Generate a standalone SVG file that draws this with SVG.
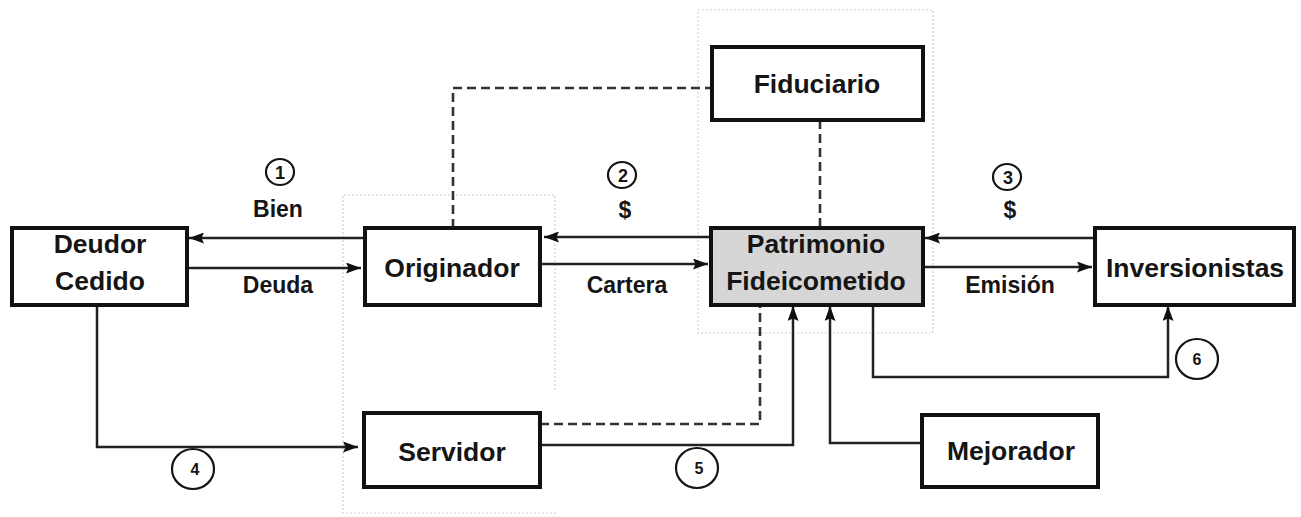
<svg xmlns="http://www.w3.org/2000/svg" width="1301" height="517" viewBox="0 0 1301 517">
<style>
.box{fill:#fff;stroke:#111;stroke-width:4}
.gray{fill:#d6d6d6}
.t{font-family:"Liberation Sans",Arial,sans-serif;font-weight:bold;font-size:26.5px;fill:#151515;text-anchor:middle}
.l{font-family:"Liberation Sans",Arial,sans-serif;font-weight:bold;font-size:23px;fill:#151515;text-anchor:middle}
.n{font-family:"Liberation Sans",Arial,sans-serif;font-weight:bold;font-size:18px;fill:#151515;text-anchor:middle}
.n2{font-family:"Liberation Sans",Arial,sans-serif;font-weight:bold;font-size:16px;fill:#151515;text-anchor:middle}
.c{fill:#fff;stroke:#151515;stroke-width:2.2}
.ln{fill:none;stroke:#222;stroke-width:2.5}
.ds{fill:none;stroke:#333;stroke-width:2.6;stroke-dasharray:9 5}
.dot{fill:none;stroke:#cfcfcf;stroke-width:1.2;stroke-dasharray:2 2}
</style>
<defs>
<marker id="ah" viewBox="0 0 15 11" refX="15" refY="5.5" markerWidth="15" markerHeight="11" markerUnits="userSpaceOnUse" orient="auto">
<path d="M0,0 L15,5.5 L0,11 L2.5,5.5 Z" fill="#111"/>
</marker>
</defs>
<rect width="1301" height="517" fill="#fff"/>
<g id="regions">
<path class="dot" d="M555,390 L555,195 L343,195 L343,513 L557,513"/>
<rect class="dot" x="698" y="10" width="235" height="323"/>
</g>
<g id="connectors">
<path class="ln" d="M365,238 L189,238" marker-end="url(#ah)"/>
<path class="ln" d="M187,268 L361,268" marker-end="url(#ah)"/>
<path class="ln" d="M711,237 L544,237" marker-end="url(#ah)"/>
<path class="ln" d="M540,264 L708,264" marker-end="url(#ah)"/>
<path class="ln" d="M1095,238 L925,238" marker-end="url(#ah)"/>
<path class="ln" d="M922,267 L1092,267" marker-end="url(#ah)"/>
<path class="ds" d="M453,228 L453,88 L711,88"/>
<path class="ds" d="M820,120 L820,228"/>
<path class="ln" d="M97,305 L97,447 L358,447" marker-end="url(#ah)"/>
<path class="ds" d="M540,424 L760,424 L760,305"/>
<path class="ln" d="M540,445 L793,445 L793,306" marker-end="url(#ah)"/>
<path class="ln" d="M922,443 L830,443 L830,306" marker-end="url(#ah)"/>
<path class="ln" d="M873,305 L873,377 L1168,377 L1168,306" marker-end="url(#ah)"/>
</g>
<g id="deudor">
<rect class="box" x="12" y="228" width="175" height="77"/>
<text class="t" x="100" y="253">Deudor</text>
<text class="t" x="100" y="290">Cedido</text>
</g>
<g id="originador">
<rect class="box" x="365" y="228" width="175" height="77"/>
<text class="t" x="452" y="277">Originador</text>
</g>
<g id="fiduciario">
<rect class="box" x="712" y="47" width="211" height="73"/>
<text class="t" x="817" y="93">Fiduciario</text>
</g>
<g id="patrimonio">
<rect class="box gray" x="711" y="228" width="212" height="77"/>
<text class="t" x="816" y="253">Patrimonio</text>
<text class="t" x="816" y="290">Fideicometido</text>
</g>
<g id="inversionistas">
<rect class="box" x="1095" y="228" width="199" height="77"/>
<text class="t" x="1195" y="277">Inversionistas</text>
</g>
<g id="servidor">
<rect class="box" x="364" y="413" width="176" height="74"/>
<text class="t" x="452" y="461">Servidor</text>
</g>
<g id="mejorador">
<rect class="box" x="922" y="415" width="176" height="72"/>
<text class="t" x="1011" y="460">Mejorador</text>
</g>
<g id="labels">
<text class="l" x="278" y="217">Bien</text>
<text class="l" x="278" y="293">Deuda</text>
<text class="l" x="625" y="218">$</text>
<text class="l" x="627" y="293">Cartera</text>
<text class="l" x="1010" y="218">$</text>
<text class="l" x="1010" y="293">Emisión</text>
</g>
<g id="numbers">
<ellipse class="c" cx="280" cy="172" rx="14" ry="13"/>
<text class="n" x="280" y="178.5">1</text>
<ellipse class="c" cx="622" cy="175" rx="14" ry="13"/>
<text class="n" x="623" y="181.5">2</text>
<ellipse class="c" cx="1007" cy="177" rx="14" ry="13"/>
<text class="n" x="1008" y="183.5">3</text>
<ellipse class="c" cx="193" cy="469" rx="21" ry="20"/>
<text class="n2" x="195" y="475">4</text>
<ellipse class="c" cx="697" cy="468" rx="21" ry="20"/>
<text class="n2" x="699" y="474">5</text>
<ellipse class="c" cx="1197" cy="359" rx="21" ry="20"/>
<text class="n2" x="1197" y="365">6</text>
</g>
</svg>
